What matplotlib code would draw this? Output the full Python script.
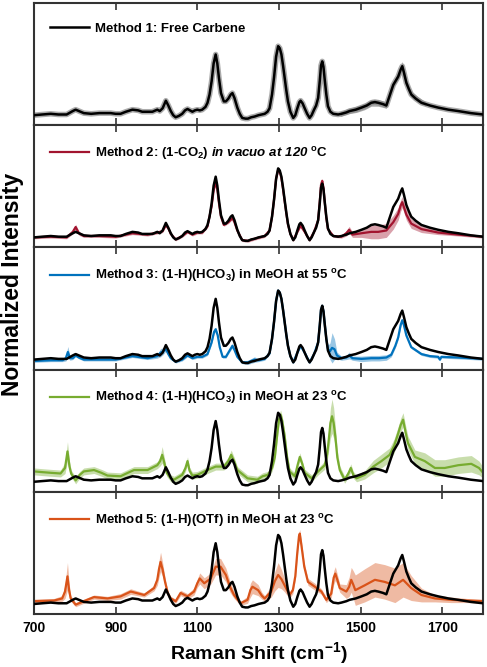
import matplotlib
matplotlib.use("Agg")
import matplotlib.pyplot as plt
import numpy as np

# Free carbene (black reference trace, same in every panel)
free_x = [700, 720, 741, 760, 780, 795, 802, 810, 822, 840, 860, 888, 900, 912, 925, 941,
          955, 965, 978, 990, 1002, 1008, 1015, 1023, 1029, 1035, 1041, 1047, 1055, 1063,
          1070, 1076, 1082, 1088, 1094, 1100, 1106, 1112, 1120, 1125, 1130, 1135, 1140,
          1145, 1149, 1153, 1158, 1165, 1170, 1176, 1182, 1186, 1191, 1198, 1204, 1210,
          1218, 1224, 1232, 1240, 1250, 1265, 1272, 1277, 1283, 1288, 1293, 1298, 1302,
          1306, 1310, 1314, 1318, 1322, 1328, 1335, 1340, 1345, 1350, 1353, 1358, 1363,
          1369, 1375, 1380, 1386, 1391, 1396, 1400, 1403, 1406, 1409, 1412, 1416, 1420,
          1426, 1433, 1445, 1453, 1465, 1473, 1488, 1502, 1515, 1526, 1535, 1543, 1555,
          1563, 1572, 1580, 1586, 1592, 1598, 1602, 1606, 1612, 1618, 1624, 1635, 1649,
          1670, 1690, 1715, 1739, 1770, 1800]
free_y = [0.00, 0.01, 0.02, 0.01, 0.01, 0.06, 0.08, 0.06, 0.03, 0.02, 0.03, 0.03, 0.02,
          0.02, 0.05, 0.08, 0.07, 0.05, 0.05, 0.05, 0.08, 0.06, 0.10, 0.21, 0.14, 0.06,
          0.00, -0.03, -0.01, 0.02, 0.07, 0.09, 0.07, 0.05, 0.07, 0.08, 0.07, 0.08, 0.12,
          0.18, 0.30, 0.49, 0.75, 0.88, 0.75, 0.54, 0.32, 0.20, 0.20, 0.24, 0.30, 0.32,
          0.25, 0.11, 0.02, -0.04, -0.05, -0.05, -0.03, -0.02, 0.00, 0.02, 0.05, 0.10,
          0.30, 0.55, 0.85, 1.00, 0.97, 0.88, 0.72, 0.54, 0.36, 0.20, 0.05, -0.04, 0.00,
          0.10, 0.19, 0.21, 0.17, 0.10, 0.02, -0.04, 0.00, 0.08, 0.14, 0.25, 0.50, 0.72,
          0.78, 0.70, 0.52, 0.30, 0.13, 0.05, 0.02, 0.01, 0.02, 0.04, 0.06, 0.08, 0.11,
          0.14, 0.18, 0.19, 0.18, 0.16, 0.14, 0.30, 0.44, 0.50, 0.56, 0.66, 0.71, 0.62,
          0.47, 0.38, 0.30, 0.24, 0.18, 0.14, 0.11, 0.08, 0.06, 0.03, 0.01]
free_band_x = [1450, 1470, 1490, 1510, 1526, 1543, 1563, 1580, 1592, 1602, 1612, 1624, 1640, 1660]
free_band_lo = [-0.02, 0.02, 0.04, 0.08, 0.13, 0.13, 0.10, 0.40, 0.52, 0.66, 0.43, 0.26, 0.19, 0.13]
free_band_hi = [0.05, 0.10, 0.13, 0.17, 0.23, 0.23, 0.19, 0.48, 0.60, 0.78, 0.52, 0.35, 0.27, 0.19]

# Method 2: (1-CO2) in vacuo
m2_x = [700, 741, 780, 795, 802, 810, 822, 860, 900, 941, 978, 1002, 1015, 1023, 1030, 1035,
        1047, 1063, 1076, 1088, 1100, 1112, 1125, 1135, 1140, 1145, 1149, 1153, 1158, 1165,
        1176, 1186, 1191, 1198, 1210, 1224, 1240, 1265, 1277, 1283, 1288, 1293, 1298, 1302,
        1306, 1310, 1314, 1318, 1322, 1328, 1335, 1345, 1353, 1363, 1375, 1386, 1396, 1400,
        1403, 1406, 1409, 1412, 1416, 1420, 1433, 1453, 1465, 1472, 1480, 1502, 1526, 1543,
        1563, 1580, 1592, 1598, 1602, 1606, 1612, 1624, 1649, 1690, 1739, 1800]
m2_y = [0.00, 0.01, 0.00, 0.08, 0.15, 0.06, 0.02, 0.02, 0.01, 0.06, 0.04, 0.07, 0.09, 0.18,
        0.12, 0.05, -0.03, 0.02, 0.08, 0.04, 0.07, 0.07, 0.16, 0.45, 0.68, 0.80, 0.70, 0.50,
        0.30, 0.18, 0.22, 0.28, 0.22, 0.10, -0.04, -0.05, -0.02, 0.02, 0.10, 0.30, 0.55, 0.85,
        0.98, 0.95, 0.86, 0.70, 0.52, 0.35, 0.19, 0.05, -0.04, 0.08, 0.17, 0.08, -0.04, 0.08,
        0.25, 0.52, 0.76, 0.82, 0.72, 0.52, 0.28, 0.12, 0.02, 0.01, 0.06, 0.11, 0.04, 0.06,
        0.08, 0.08, 0.10, 0.22, 0.34, 0.46, 0.51, 0.44, 0.33, 0.20, 0.12, 0.07, 0.04, 0.01]
m2_err = [0.02, 0.02, 0.02, 0.03, 0.04, 0.03, 0.02, 0.02, 0.02, 0.02, 0.02, 0.02, 0.02, 0.02,
          0.02, 0.02, 0.02, 0.02, 0.02, 0.02, 0.02, 0.02, 0.02, 0.02, 0.02, 0.03, 0.02, 0.02,
          0.02, 0.02, 0.02, 0.02, 0.02, 0.02, 0.02, 0.02, 0.02, 0.02, 0.02, 0.02, 0.02, 0.02,
          0.02, 0.02, 0.02, 0.02, 0.02, 0.02, 0.02, 0.02, 0.02, 0.02, 0.02, 0.02, 0.02, 0.02,
          0.02, 0.02, 0.03, 0.03, 0.03, 0.02, 0.02, 0.02, 0.02, 0.02, 0.04, 0.05, 0.04, 0.06,
          0.10, 0.10, 0.10, 0.10, 0.09, 0.08, 0.08, 0.08, 0.08, 0.07, 0.05, 0.03, 0.02, 0.02]

# Method 3: (1-H)(HCO3) in MeOH at 55 C
m3_x = [700, 741, 770, 778, 783, 788, 795, 802, 810, 822, 860, 900, 941, 978, 1002, 1010,
        1016, 1023, 1029, 1035, 1047, 1063, 1076, 1088, 1100, 1112, 1125, 1135, 1141, 1145,
        1150, 1155, 1162, 1170, 1178, 1186, 1191, 1198, 1210, 1224, 1240, 1250, 1265, 1277,
        1283, 1288, 1293, 1298, 1302, 1306, 1310, 1314, 1318, 1322, 1328, 1335, 1345, 1353,
        1363, 1375, 1386, 1396, 1400, 1403, 1406, 1409, 1412, 1416, 1420, 1425, 1430, 1436,
        1442, 1453, 1465, 1472, 1480, 1502, 1526, 1545, 1563, 1575, 1585, 1592, 1598, 1602,
        1606, 1612, 1624, 1649, 1670, 1690, 1694, 1698, 1739, 1770, 1800]
m3_y = [-0.02, -0.01, -0.01, 0.02, 0.11, 0.02, 0.02, 0.06, 0.03, 0.00, 0.00, 0.00, 0.05,
        0.02, 0.05, 0.10, 0.12, 0.15, 0.08, 0.02, -0.03, 0.00, 0.06, 0.02, 0.04, 0.04, 0.08,
        0.25, 0.40, 0.44, 0.35, 0.18, 0.04, 0.04, 0.12, 0.20, 0.14, 0.04, -0.04, -0.04, 0.00,
        -0.01, 0.01, 0.09, 0.30, 0.55, 0.85, 1.00, 0.97, 0.88, 0.72, 0.54, 0.36, 0.20, 0.05,
        -0.04, 0.10, 0.20, 0.10, -0.04, 0.08, 0.25, 0.50, 0.72, 0.78, 0.70, 0.52, 0.30, 0.15,
        0.12, 0.17, 0.15, 0.06, 0.02, 0.03, 0.06, 0.02, 0.01, 0.02, 0.02, 0.03, 0.07, 0.20,
        0.32, 0.50, 0.57, 0.50, 0.35, 0.18, 0.08, 0.05, 0.04, 0.00, 0.04, 0.03, 0.02, 0.01]
m3_err = [0.02, 0.02, 0.02, 0.04, 0.08, 0.03, 0.02, 0.02, 0.02, 0.02, 0.02, 0.02, 0.02, 0.02,
          0.03, 0.06, 0.05, 0.03, 0.02, 0.02, 0.02, 0.02, 0.02, 0.02, 0.02, 0.02, 0.02, 0.03,
          0.03, 0.03, 0.03, 0.02, 0.02, 0.02, 0.02, 0.03, 0.02, 0.02, 0.02, 0.03, 0.04, 0.02,
          0.02, 0.02, 0.02, 0.02, 0.02, 0.02, 0.02, 0.02, 0.02, 0.02, 0.02, 0.02, 0.02, 0.02,
          0.02, 0.02, 0.02, 0.02, 0.02, 0.02, 0.02, 0.02, 0.02, 0.02, 0.02, 0.02, 0.06, 0.12,
          0.22, 0.15, 0.05, 0.03, 0.03, 0.05, 0.03, 0.04, 0.04, 0.04, 0.04, 0.03, 0.03, 0.03,
          0.03, 0.03, 0.03, 0.03, 0.02, 0.02, 0.02, 0.02, 0.02, 0.02, 0.02, 0.02, 0.02]

# Method 4: (1-H)(HCO3) in MeOH at 23 C
m4_x = [700, 720, 741, 765, 776, 782, 787, 791, 802, 812, 822, 847, 865, 880, 912, 930, 945,
        978, 1002, 1009, 1014, 1019, 1025, 1035, 1043, 1063, 1071, 1076, 1081, 1088, 1100,
        1125, 1145, 1165, 1176, 1183, 1190, 1198, 1223, 1247, 1260, 1273, 1283, 1290, 1296,
        1300, 1304, 1308, 1314, 1320, 1326, 1339, 1346, 1351, 1357, 1363, 1380, 1396, 1412,
        1418, 1422, 1426, 1430, 1434, 1438, 1443, 1449, 1461, 1470, 1476, 1482, 1490, 1510,
        1531, 1551, 1571, 1582, 1592, 1598, 1604, 1610, 1616, 1633, 1657, 1682, 1706, 1739,
        1771, 1790, 1800]
m4_y = [0.15, 0.14, 0.13, 0.12, 0.20, 0.44, 0.22, 0.12, 0.02, 0.10, 0.15, 0.17, 0.13, 0.09,
        0.08, 0.13, 0.17, 0.17, 0.24, 0.30, 0.39, 0.28, 0.13, 0.05, 0.03, 0.10, 0.20, 0.30,
        0.16, 0.09, 0.10, 0.17, 0.22, 0.22, 0.30, 0.39, 0.30, 0.17, 0.05, 0.03, 0.08, 0.10,
        0.20, 0.36, 0.70, 0.90, 0.97, 0.88, 0.66, 0.35, 0.15, 0.08, 0.25, 0.36, 0.26, 0.13,
        0.05, 0.15, 0.24, 0.40, 0.61, 0.85, 0.95, 0.85, 0.66, 0.35, 0.17, 0.03, 0.12, 0.20,
        0.10, 0.05, 0.10, 0.22, 0.30, 0.39, 0.52, 0.70, 0.82, 0.90, 0.72, 0.56, 0.36, 0.30,
        0.20, 0.20, 0.24, 0.26, 0.20, 0.13]
m4_err = [0.05, 0.05, 0.05, 0.05, 0.08, 0.14, 0.08, 0.05, 0.05, 0.05, 0.05, 0.05, 0.05, 0.05,
          0.05, 0.05, 0.05, 0.05, 0.05, 0.07, 0.12, 0.08, 0.05, 0.05, 0.05, 0.05, 0.05, 0.06,
          0.05, 0.05, 0.05, 0.05, 0.05, 0.05, 0.06, 0.07, 0.06, 0.05, 0.05, 0.05, 0.05, 0.05,
          0.05, 0.06, 0.07, 0.07, 0.07, 0.07, 0.07, 0.06, 0.05, 0.05, 0.05, 0.06, 0.05, 0.05,
          0.05, 0.05, 0.06, 0.10, 0.15, 0.22, 0.25, 0.22, 0.15, 0.10, 0.06, 0.05, 0.05, 0.06,
          0.05, 0.05, 0.06, 0.09, 0.10, 0.10, 0.10, 0.10, 0.10, 0.10, 0.10, 0.10, 0.10, 0.12,
          0.12, 0.12, 0.12, 0.12, 0.10, 0.08]

# Method 5: (1-H)(OTf) in MeOH at 23 C
m5_x = [700, 749, 769, 776, 782, 786, 790, 802, 822, 847, 880, 912, 937, 970, 994, 1002,
        1006, 1010, 1015, 1021, 1028, 1035, 1047, 1059, 1076, 1092, 1100, 1106, 1117, 1133,
        1145, 1157, 1170, 1180, 1190, 1206, 1223, 1230, 1235, 1249, 1258, 1265, 1281, 1290,
        1298, 1306, 1313, 1326, 1334, 1340, 1345, 1349, 1351, 1355, 1362, 1371, 1388, 1404,
        1416, 1428, 1434, 1438, 1443, 1449, 1465, 1472, 1477, 1482, 1487, 1510, 1535, 1559,
        1584, 1604, 1624, 1649, 1682, 1722, 1760, 1800]
m5_y = [0.04, 0.05, 0.08, 0.18, 0.40, 0.20, 0.08, -0.01, 0.04, 0.10, 0.08, 0.11, 0.18, 0.13,
        0.23, 0.35, 0.50, 0.61, 0.50, 0.32, 0.15, 0.08, 0.04, 0.16, 0.11, 0.18, 0.30, 0.37,
        0.30, 0.37, 0.54, 0.54, 0.42, 0.25, 0.13, 0.01, 0.06, 0.20, 0.25, 0.20, 0.12, 0.08,
        0.18, 0.33, 0.42, 0.36, 0.28, 0.13, 0.20, 0.40, 0.75, 0.98, 1.02, 0.85, 0.54, 0.32,
        0.25, 0.18, 0.06, 0.15, 0.38, 0.44, 0.35, 0.23, 0.18, 0.25, 0.35, 0.28, 0.20, 0.27,
        0.35, 0.32, 0.27, 0.35, 0.23, 0.13, 0.08, 0.06, 0.05, 0.04]
m5_err = [0.03, 0.03, 0.04, 0.10, 0.20, 0.10, 0.04, 0.03, 0.03, 0.03, 0.03, 0.04, 0.04, 0.03,
          0.04, 0.08, 0.12, 0.14, 0.10, 0.06, 0.04, 0.03, 0.03, 0.04, 0.04, 0.05, 0.06, 0.08,
          0.08, 0.08, 0.12, 0.12, 0.10, 0.08, 0.05, 0.03, 0.05, 0.10, 0.10, 0.08, 0.05, 0.04,
          0.08, 0.14, 0.18, 0.14, 0.10, 0.05, 0.05, 0.05, 0.06, 0.06, 0.06, 0.06, 0.05, 0.05,
          0.05, 0.04, 0.04, 0.06, 0.10, 0.10, 0.08, 0.06, 0.10, 0.14, 0.18, 0.20, 0.22, 0.24,
          0.25, 0.25, 0.25, 0.25, 0.18, 0.10, 0.05, 0.04, 0.03, 0.03]

labels = [
    "Method 1: Free Carbene",
    r"Method 2: (1-CO$_2$) $\mathsf{in\ vacuo\ at\ 120}$ $^{o}$C",
    r"Method 3: (1-H)(HCO$_3$) in MeOH at 55 $^{o}$C",
    r"Method 4: (1-H)(HCO$_3$) in MeOH at 23 $^{o}$C",
    r"Method 5: (1-H)(OTf) in MeOH at 23 $^{o}$C",
]
colors = ["#000000", "#A2142F", "#0072BD", "#77AC30", "#D95319"]
methods = [None, (m2_x, m2_y, m2_err), (m3_x, m3_y, m3_err),
           (m4_x, m4_y, m4_err), (m5_x, m5_y, m5_err)]

plt.rcParams["font.family"] = "Liberation Sans"
plt.rcParams["font.weight"] = "bold"
plt.rcParams["mathtext.fontset"] = "custom"
plt.rcParams["mathtext.rm"] = "Liberation Sans:bold"
plt.rcParams["mathtext.bf"] = "Liberation Sans:bold"
plt.rcParams["mathtext.it"] = "Liberation Sans:italic:bold"
# sf is used for the italic run so the digits stay italic too
plt.rcParams["mathtext.sf"] = "Liberation Sans:italic:bold"
plt.rcParams["mathtext.default"] = "rm"

fig = plt.figure(figsize=(4.87, 6.67), dpi=100)
axes = fig.subplots(5, 1, sharex=True)
fig.subplots_adjust(left=0.0698, right=0.992, top=0.9955, bottom=0.0795, hspace=0)

for i, ax in enumerate(axes):
    if i == 0:
        ax.plot(free_x, free_y, color="#888888", lw=4.0, alpha=0.7, zorder=1)
        ax.fill_between(free_band_x, free_band_lo, free_band_hi, color="#888888",
                        alpha=0.7, lw=0, zorder=1)
        ax.plot(free_x, free_y, color="black", lw=1.8, label=labels[0], zorder=3)
    else:
        mx = np.array(methods[i][0])
        my = np.array(methods[i][1])
        me = np.array(methods[i][2])
        ax.fill_between(mx, my - me, my + me, color=colors[i], alpha=0.4, lw=0, zorder=1)
        ax.plot(mx, my, color=colors[i], lw=1.6, label=labels[i], zorder=2)
        ax.plot(free_x, free_y, color="black", lw=1.8, zorder=3)

    ax.set_xlim(700, 1800)
    ax.set_ylim(-0.145, 1.626)
    ax.set_yticks([])
    ax.set_xticks([700, 900, 1100, 1300, 1500, 1700])
    ax.tick_params(axis="x", direction="in", top=True, length=5, width=1.2,
                   labelsize=10, pad=5, color="#333333")
    for sp in ax.spines.values():
        sp.set_linewidth(1.5)
        sp.set_color("#333333")
    ax.legend(loc="upper left", bbox_to_anchor=(0.0, 0.967), frameon=False,
              handlelength=3.0, handletextpad=0.45, borderaxespad=0.8,
              prop={"weight": "bold", "size": 9.5})

axes[-1].set_xlabel(r"Raman Shift (cm$^{-1}$)", fontsize=14, fontweight="bold", labelpad=4)
fig.text(0.025, 0.573, "Normalized Intensity", rotation=90, ha="center", va="center",
         fontsize=16.5, fontweight="bold")

fig.savefig("out.png", dpi=100)
